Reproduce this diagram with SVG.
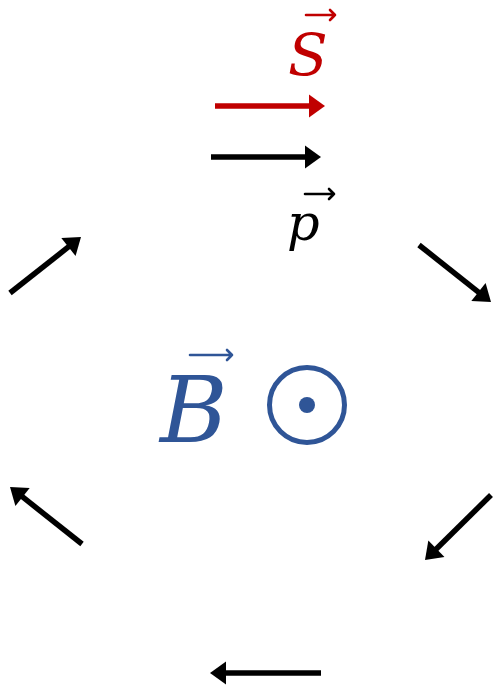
<svg xmlns="http://www.w3.org/2000/svg" width="493" height="691" viewBox="0 0 493 691">
<style>
.ar{stroke:#000;stroke-width:5.5;fill:none}
.hd{fill:#000}
.lbl{font-family:"DejaVu Serif","Liberation Serif",serif;font-style:italic}
.acc{stroke-width:2.6;fill:none;stroke-linecap:round;stroke-linejoin:round}
</style>
<rect width="493" height="691" fill="#fff"/>
<g id="connectors">
<line x1="215" y1="106" x2="311" y2="106" stroke="#c00000" stroke-width="5.5"/>
<polygon points="325,106 309,94.5 309,117.5" fill="#c00000"/>
<line class="ar" x1="211" y1="157" x2="307" y2="157"/>
<polygon class="hd" points="321,157 305,145.5 305,168.5"/>
<line class="ar" x1="10" y1="293" x2="70" y2="245.7"/>
<polygon class="hd" points="81,237 75.56,255.94 61.32,237.88"/>
<line class="ar" x1="419" y1="245" x2="480" y2="293.3"/>
<polygon class="hd" points="491,302 471.32,301.09 485.6,283.05"/>
<line class="ar" x1="82" y1="544" x2="21" y2="495.7"/>
<polygon class="hd" points="10,487 29.68,487.91 15.4,505.95"/>
<line class="ar" x1="491" y1="495" x2="435" y2="550.2"/>
<polygon class="hd" points="425,560 444.47,556.96 428.33,540.58"/>
<line class="ar" x1="321" y1="673" x2="224" y2="673"/>
<polygon class="hd" points="210,673 226,661.5 226,684.5"/>
</g>
<g id="S">
<text class="lbl" x="288" y="75" font-size="58" fill="#c00000">S</text>
<path class="acc" stroke="#c00000" d="M306,15 H335 M330,10 L335,15 L330,20"/>
</g>
<g id="p">
<text class="lbl" x="287" y="240" font-size="51" fill="#000">p</text>
<path class="acc" stroke="#000" d="M305,194 H334 M329,189 L334,194 L329,199"/>
</g>
<g id="B">
<text class="lbl" x="160" y="442" font-size="92" fill="#2f5597">B</text>
<path class="acc" stroke="#2f5597" d="M190,355 H232 M227,350 L232,355 L227,360"/>
</g>
<g id="Bfield">
<circle cx="307" cy="405" r="37.5" fill="none" stroke="#2f5597" stroke-width="5"/>
<circle cx="307" cy="405" r="8" fill="#2f5597"/>
</g>
</svg>
